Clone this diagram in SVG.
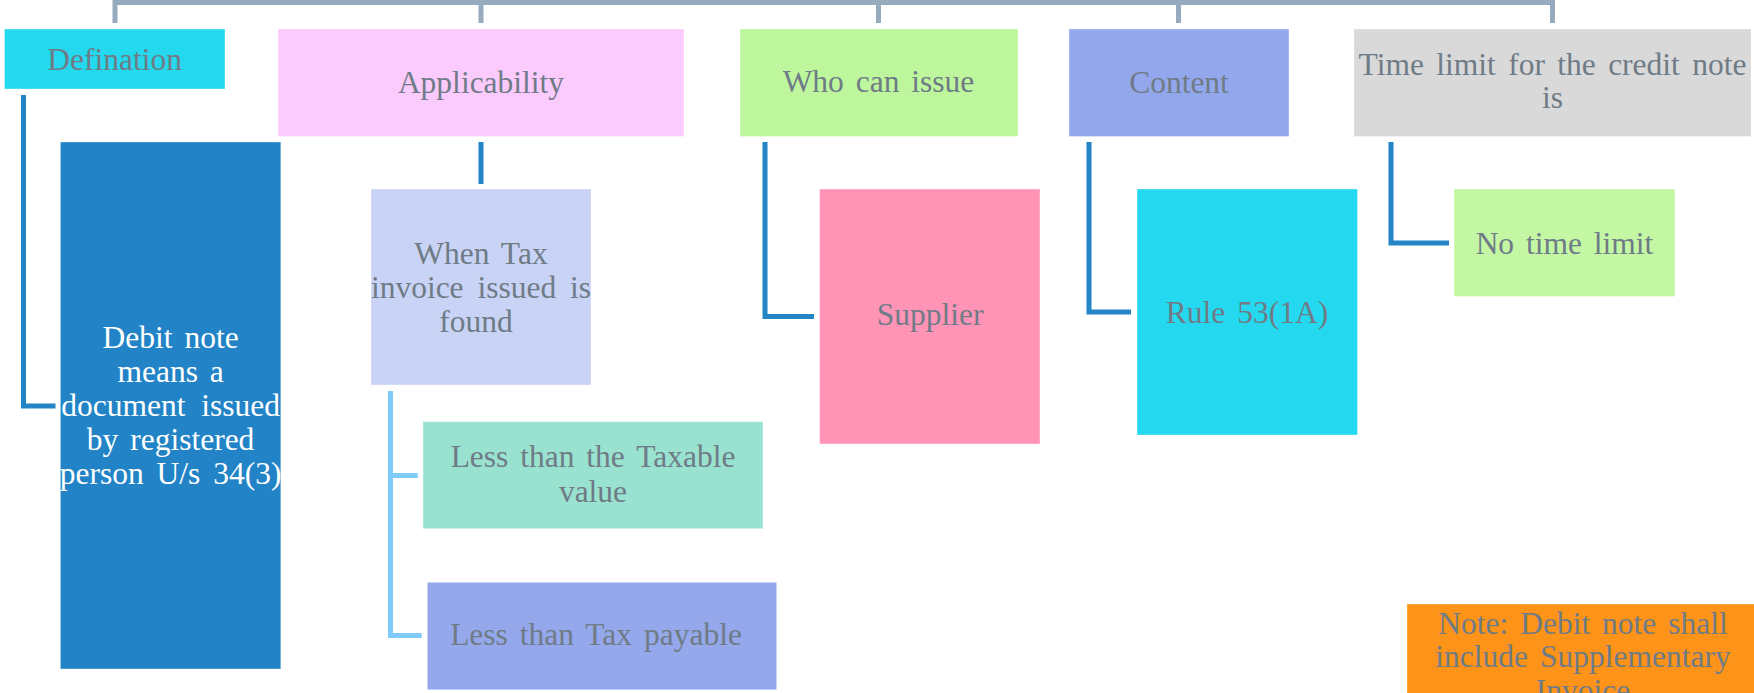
<svg xmlns="http://www.w3.org/2000/svg" width="1754" height="693" viewBox="0 0 1754 693">
<style>
.t{font-family:"Liberation Serif","Times New Roman",serif;font-size:31.5px;fill:#6f7b86;text-anchor:middle;word-spacing:4px}
.w{fill:#ffffff}
.b{stroke:#ffffff;stroke-opacity:0.35;stroke-width:1}
.bus{fill:none;stroke:#97abbf;stroke-width:5}
.c{fill:none;stroke:#2384c6;stroke-width:5}
.lc{fill:none;stroke:#7fccfa;stroke-width:5}
</style>
<rect width="1754" height="693" fill="#ffffff"/>
<g id="connectors">
<path class="bus" d="M115,23 V2.5 H1552.5 V23 M481,2.5 V23 M878.5,2.5 V23 M1178.5,2.5 V23"/>
<path class="c" d="M23.5,95 V406 H55.5"/>
<path class="c" d="M481,142 V184"/>
<path class="c" d="M765,142 V316.5 H814"/>
<path class="c" d="M1089,142 V312 H1131"/>
<path class="c" d="M1391,142 V243 H1449"/>
<path class="lc" d="M390.5,391 V635.5 H421.7 M390.5,475.5 H417.7"/>
</g>
<g id="defination">
<rect class="b" x="4.5" y="29" width="220.5" height="60" fill="#24d9ee"/>
<text class="t" x="114.7" y="70">Defination</text>
</g>
<g id="applicability">
<rect class="b" x="278" y="29" width="406" height="107.5" fill="#fccbfe"/>
<text class="t" x="481" y="93">Applicability</text>
</g>
<g id="who">
<rect class="b" x="740" y="29" width="278" height="107.5" fill="#bdf69c"/>
<text class="t" x="878.5" y="92">Who can issue</text>
</g>
<g id="content">
<rect class="b" x="1069" y="29" width="220" height="107.5" fill="#93a8ec"/>
<text class="t" x="1179" y="93">Content</text>
</g>
<g id="timelimit">
<rect class="b" x="1354" y="29" width="397" height="107.5" fill="#d9d9d9"/>
<text class="t" x="1552.5" y="75" style="word-spacing:4.5px">Time limit for the credit note</text>
<text class="t" x="1552.5" y="108">is</text>
</g>
<g id="debit">
<rect class="b" x="60.4" y="142" width="220.4" height="527" fill="#2284c6"/>
<text class="t w" x="170.6" y="348">Debit note</text>
<text class="t w" x="170.6" y="382">means a</text>
<text class="t w" x="170.6" y="416" style="word-spacing:8px">document issued</text>
<text class="t w" x="170.6" y="450">by registered</text>
<text class="t w" x="170.6" y="484" style="word-spacing:5px">person U/s 34(3)</text>
</g>
<g id="whentax">
<rect class="b" x="371" y="189" width="220" height="196" fill="#c9d3f5"/>
<text class="t" x="481" y="264">When Tax</text>
<text class="t" x="481" y="298" style="word-spacing:6px">invoice issued is</text>
<text class="t" x="476" y="332">found</text>
</g>
<g id="taxable">
<rect class="b" x="423" y="421.7" width="340" height="107" fill="#9ae2d0"/>
<text class="t" x="593" y="467">Less than the Taxable</text>
<text class="t" x="593" y="502">value</text>
</g>
<g id="payable">
<rect class="b" x="427.3" y="582.3" width="349.4" height="107.5" fill="#94a8eb"/>
<text class="t" x="596" y="645">Less than Tax payable</text>
</g>
<g id="supplier">
<rect class="b" x="819.6" y="189" width="220.4" height="255" fill="#ff94b6"/>
<text class="t" x="930" y="325">Supplier</text>
</g>
<g id="rule">
<rect class="b" x="1137" y="189" width="220.5" height="246" fill="#24d9ef"/>
<text class="t" x="1247" y="323">Rule 53(1A)</text>
</g>
<g id="notimelimit">
<rect class="b" x="1454" y="189" width="221" height="107.5" fill="#c4f7a4"/>
<text class="t" x="1564.5" y="254">No time limit</text>
</g>
<g id="note">
<rect class="b" x="1407" y="604" width="353" height="110" fill="#fd9318"/>
<text class="t" x="1583" y="634">Note: Debit note shall</text>
<text class="t" x="1583" y="667">include Supplementary</text>
<text class="t" x="1583" y="701">Invoice</text>
</g>
</svg>
